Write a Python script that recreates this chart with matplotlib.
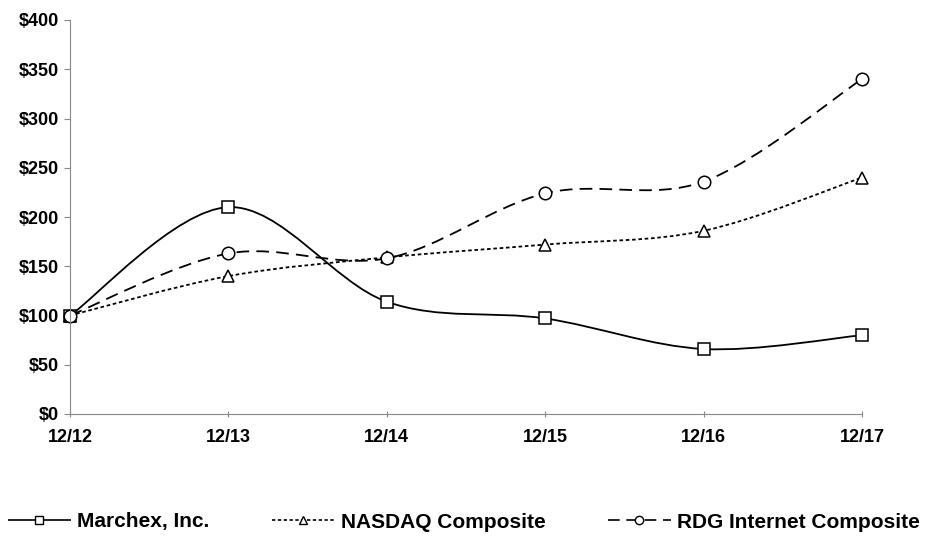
import matplotlib
matplotlib.use("Agg")
import matplotlib.pyplot as plt
from matplotlib.path import Path
from matplotlib.patches import PathPatch
from matplotlib.lines import Line2D
import numpy as np

plt.rcParams['font.family'] = ['Liberation Sans', 'DejaVu Sans']

periods = ["12/12", "12/13", "12/14", "12/15", "12/16", "12/17"]
marchex = [100, 210, 114, 97, 66, 80]
nasdaq = [100, 140, 159, 172, 186, 240]
rdg = [100, 163, 158, 224, 236, 340]
y_ticks = [0, 50, 100, 150, 200, 250, 300, 350, 400]


# Excel-like smoothed line: cubic Bezier through the points
def smooth_path(xs, ys, t=1.0 / 6):
    pts = np.column_stack([xs, ys]).astype(float)
    verts = [pts[0]]
    codes = [Path.MOVETO]
    n = len(pts)
    for i in range(n - 1):
        p0 = pts[max(i - 1, 0)]
        p1 = pts[i]
        p2 = pts[i + 1]
        p3 = pts[min(i + 2, n - 1)]
        c1 = p1 + (p2 - p0) * t
        c2 = p2 - (p3 - p1) * t
        verts += [c1, c2, p2]
        codes += [Path.CURVE4] * 3
    return Path(verts, codes)


fig = plt.figure(figsize=(9.27, 5.44), dpi=100)
ax = fig.add_axes([70 / 927, 130 / 544, 792 / 927, 394 / 544])

x = np.arange(len(periods))
styles = [
    ("Marchex, Inc.", marchex, "s", (0, ()), 8),
    ("NASDAQ Composite", nasdaq, "^", (0, (2, 1.5)), 272),
    ("RDG Internet Composite", rdg, "o", (0, (7, 4)), 608),
]

for label, vals, mk, ls, lx in styles:
    patch = PathPatch(smooth_path(x, vals), facecolor="none", edgecolor="black",
                      linestyle=ls, linewidth=1.3)
    ax.add_patch(patch)
    ax.plot(x, vals, linestyle="none", marker=mk, markersize=9, clip_on=False,
            markerfacecolor="white", markeredgecolor="black", markeredgewidth=1.1)
    h = Line2D([], [], color="black", linestyle=ls, linewidth=1.2,
               marker=mk, markersize=6, markerfacecolor="white",
               markeredgecolor="black", label=label)
    fig.legend(handles=[h], loc="center left", bbox_to_anchor=(lx / 927, 1 - 522 / 544),
               frameon=False, borderpad=0, borderaxespad=0, handlelength=3.0,
               handletextpad=0.33, prop={"weight": "bold", "size": 15})

ax.set_xlim(0, len(periods) - 1)
ax.set_ylim(0, 400)
ax.set_xticks(x)
ax.set_xticklabels(periods, fontsize=13, fontweight="bold")
ax.set_yticks(y_ticks)
ax.set_yticklabels(["$%d" % v for v in y_ticks], fontsize=13, fontweight="bold")
for s in ["top", "right"]:
    ax.spines[s].set_visible(False)
for s in ["left", "bottom"]:
    ax.spines[s].set_color("#888888")
ax.tick_params(axis="y", length=4, color="#888888", pad=4)
ax.tick_params(axis="x", length=4, direction="inout", color="#888888", pad=9)

fig.savefig("out.png", dpi=100)
